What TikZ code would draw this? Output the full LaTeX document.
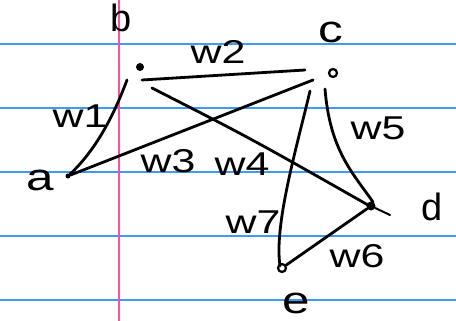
\documentclass[tikz,border=0pt]{standalone}
\usepackage{fontspec}
\setmainfont{Liberation Sans}
\usetikzlibrary{calc}
\definecolor{rule}{HTML}{3D9BF5}
\definecolor{margin}{HTML}{FF4FA3}
\tikzset{
  ruleline/.style={draw=rule, line width=1.6pt},
  marginline/.style={draw=margin, line width=1.6pt},
  edge/.style={draw=black, line width=2.8pt, line cap=round},
  vtx/.style={circle, fill=black, inner sep=0pt, minimum size=6pt},
  ovtx/.style={circle, draw=black, line width=2.2pt, inner sep=0pt, minimum size=8pt},
  lbl/.style={font=\fontsize{38}{38}\selectfont, inner sep=0pt},
  wlbl/.style={font=\fontsize{33}{33}\selectfont, inner sep=0pt}
}
\newcommand{\wide}[1]{\scalebox{1.3}[1]{#1}}
\begin{document}
\begin{tikzpicture}[x=1pt,y=-1pt]
\useasboundingbox (0,0) rectangle (456,321);
\fill[white] (0,0) rectangle (456,321);
% ruled paper
\foreach \yy in {44,108,172,236,300} \draw[ruleline] (0,\yy) -- (456,\yy);
\draw[marginline] (119,0) -- (119,321);
% vertices
\node[vtx, minimum width=8pt, minimum height=5pt] (b) at (140,67) {};
\node[ovtx] (c) at (333,73) {};
\node[vtx, minimum size=9pt] (d) at (371,206) {};
\node[ovtx] (e) at (282,268) {};
\node[vtx, minimum size=5pt] (a) at (68,176) {};
% vertex labels
\node[lbl] (la) at (40,180) {\wide{a}};
\node[lbl] (lb) at (121,18) {b};
\node[lbl] (lc) at (331,32) {\wide{c}};
\node[lbl] (ld) at (432,207) {d};
\node[lbl] (le) at (296,303) {\wide{e}};
% edges
\draw[edge] ($(b)+(-13,13)$) .. controls (114,115) and (96,150) .. (a);
\draw[edge] ($(b)+(2,13)$) -- ($(c)+(-28,-3)$);
\draw[edge] ($(c)+(-20,7)$) -- (a);
\draw[edge] ($(b)+(12,21)$) .. controls (250,138) .. ($(d)+(-3,-1)$);
\draw[edge] ($(c)+(-8,16)$) .. controls (330,150) and (352,172) .. ($(d)+(2,-4)$);
\draw[edge] ($(c)+(-23,18)$) .. controls (296,150) and (274,225) .. ($(e)+(-2,-2)$);
\draw[edge] (e) -- (d);
\coordinate (dt) at (390,215);
\draw[edge, line width=2pt] (d) -- (dt);
% weight labels
\node[wlbl] (w1) at (80,116) {\wide{w1}};
\node[wlbl] (w2) at (218,52) {\wide{w2}};
\node[wlbl] (w3) at (168,161) {\wide{w3}};
\node[wlbl] (w4) at (242,164) {\wide{w4}};
\node[wlbl] (w5) at (378,128) {\wide{w5}};
\node[wlbl] (w6) at (357,256) {\wide{w6}};
\node[wlbl] (w7) at (253,222) {\wide{w7}};
\end{tikzpicture}
\end{document}
